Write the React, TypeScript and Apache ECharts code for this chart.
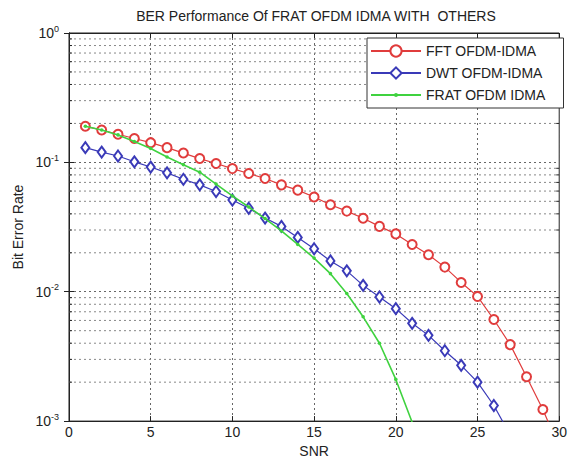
import React, { useEffect, useRef } from "react";
import * as echarts from "echarts";

const titleText = "BER Performance Of FRAT OFDM IDMA WITH  OTHERS";
const xName = "SNR";
const yName = "Bit Error Rate";
const seriesNames = ["FFT OFDM-IDMA", "DWT OFDM-IDMA", "FRAT OFDM IDMA"];

const snrFFT = [1, 2, 3, 4, 5, 6, 7, 8, 9, 10, 11, 12, 13, 14, 15, 16, 17, 18, 19, 20, 21, 22, 23, 24, 25, 26, 27, 28, 29, 30];
const berFFT = [0.19, 0.178, 0.165, 0.153, 0.142, 0.13, 0.118, 0.107, 0.098, 0.0895, 0.082, 0.075, 0.067, 0.061, 0.054, 0.047, 0.042, 0.037, 0.032, 0.028, 0.0232, 0.0193, 0.0155, 0.0118, 0.0092, 0.0061, 0.0039, 0.0022, 0.00123, 0.00062];

const snrDWT = [1, 2, 3, 4, 5, 6, 7, 8, 9, 10, 11, 12, 13, 14, 15, 16, 17, 18, 19, 20, 21, 22, 23, 24, 25, 26, 27];
const berDWT = [0.13, 0.12, 0.112, 0.101, 0.092, 0.083, 0.074, 0.067, 0.0595, 0.0512, 0.0442, 0.0371, 0.032, 0.0263, 0.0215, 0.0173, 0.0145, 0.0112, 0.0091, 0.0074, 0.0057, 0.0046, 0.0035, 0.0027, 0.002, 0.00132, 0.00078];

const snrFRAT = [1, 2, 3, 4, 5, 6, 7, 8, 9, 10, 11, 12, 13, 14, 15, 16, 17, 18, 19, 20, 21];
const berFRAT = [0.19, 0.178, 0.163, 0.145, 0.128, 0.11, 0.096, 0.084, 0.068, 0.055, 0.0452, 0.0368, 0.0295, 0.0232, 0.0182, 0.0138, 0.0097, 0.0064, 0.004, 0.0021, 0.00098];

const minorGridValues = [
  0.002, 0.003, 0.004, 0.005, 0.006, 0.007, 0.008, 0.009,
  0.02, 0.03, 0.04, 0.05, 0.06, 0.07, 0.08, 0.09,
  0.2, 0.3, 0.4, 0.5, 0.6, 0.7, 0.8, 0.9,
];

const X_MIN = 0;
const X_MAX = 30;
const Y_MIN = 0.001;
const Y_MAX = 1;

const FONT = "'Liberation Sans', Arial, Helvetica, sans-serif";
// small centred dot inside a 10x10 box (the moves keep the box size)
const DOT_SYMBOL = "path://M0,0M10,10M3.2,5a1.8,1.8 0 1,0 3.6,0a1.8,1.8 0 1,0 -3.6,0z";

const zip = (xs: number[], ys: number[]) => xs.map((x, i) => [x, ys[i]]);

export default function App() {
  const ref = useRef<HTMLDivElement>(null);
  useEffect(() => {
    const chart = echarts.init(ref.current!, null, { renderer: "svg" });
    const axisColor = "#222";
    const gridDash = [2, 3];
    chart.setOption({
      animation: false,
      backgroundColor: "#fff",
      textStyle: { fontFamily: FONT },
      graphic: [
        {
          type: "text",
          x: 316,
          y: 16,
          style: {
            text: titleText,
            align: "center",
            verticalAlign: "middle",
            fontFamily: FONT,
            fontSize: 14,
            fill: "#222",
          },
        },
      ],
      grid: {
        left: 69,
        right: 7,
        top: 33,
        bottom: 38,
        show: true,
        borderColor: axisColor,
        borderWidth: 1,
        backgroundColor: "#fff",
      },
      legend: {
        data: seriesNames,
        orient: "vertical",
        left: 367,
        top: 38,
        itemWidth: 50,
        itemHeight: 14,
        itemGap: 8,
        padding: [6, 18, 6, 3],
        backgroundColor: "#fff",
        borderColor: "#333",
        borderWidth: 1,
        textStyle: { fontFamily: FONT, fontSize: 14, color: "#222" },
      },
      xAxis: [
        {
          type: "value",
          min: X_MIN,
          max: X_MAX,
          interval: 5,
          name: xName,
          nameLocation: "middle",
          nameGap: 22,
          nameTextStyle: { fontFamily: FONT, fontSize: 14, color: "#222" },
          axisLine: { show: true, lineStyle: { color: axisColor } },
          axisTick: { show: true, inside: true, length: 5, lineStyle: { color: axisColor } },
          axisLabel: { margin: 4, fontFamily: FONT, fontSize: 14, color: "#222" },
          splitLine: { show: true, lineStyle: { color: "#666", type: gridDash, width: 1 } },
        },
        {
          type: "value",
          position: "top",
          min: X_MIN,
          max: X_MAX,
          interval: 5,
          axisLine: { show: true, lineStyle: { color: axisColor } },
          axisTick: { show: true, inside: true, length: 5, lineStyle: { color: axisColor } },
          axisLabel: { show: false },
          splitLine: { show: false },
        },
      ],
      yAxis: [
        {
          type: "log",
          logBase: 10,
          min: Y_MIN,
          max: Y_MAX,
          name: yName,
          nameLocation: "middle",
          nameGap: 42,
          nameTextStyle: { fontFamily: FONT, fontSize: 14, color: "#222" },
          axisLine: { show: true, lineStyle: { color: axisColor } },
          axisTick: { show: true, inside: true, length: 5, lineStyle: { color: axisColor } },
          axisLabel: {
            margin: 10,
            formatter: (v: number) => `{b|10}{s|${Math.round(Math.log10(v))}}`,
            rich: {
              b: { fontFamily: FONT, fontSize: 14, color: "#222" },
              s: { fontFamily: FONT, fontSize: 9, color: "#222", padding: [0, 0, 9, 0] },
            },
          },
          splitLine: { show: true, lineStyle: { color: "#666", type: gridDash, width: 1 } },
        },
        {
          type: "log",
          logBase: 10,
          min: Y_MIN,
          max: Y_MAX,
          position: "right",
          axisLine: { show: true, lineStyle: { color: axisColor } },
          axisTick: { show: true, inside: true, length: 5, lineStyle: { color: axisColor } },
          axisLabel: { show: false },
          splitLine: { show: false },
        },
      ],
      series: [
        {
          type: "custom",
          name: "minorGrid",
          silent: true,
          z: 1,
          xAxisIndex: 0,
          yAxisIndex: 0,
          data: minorGridValues.map((v) => [X_MIN, v]),
          renderItem: (params: any, api: any) => {
            const v = api.value(1);
            const p0 = api.coord([X_MIN, v]);
            const p1 = api.coord([X_MAX, v]);
            return {
              type: "group",
              children: [
                {
                  type: "line",
                  shape: { x1: p0[0], y1: p0[1], x2: p1[0], y2: p1[1] },
                  style: { stroke: "#888", lineWidth: 1, lineDash: gridDash },
                },
                {
                  type: "line",
                  shape: { x1: p0[0], y1: p0[1], x2: p0[0] + 3, y2: p0[1] },
                  style: { stroke: axisColor, lineWidth: 1 },
                },
                {
                  type: "line",
                  shape: { x1: p1[0] - 3, y1: p1[1], x2: p1[0], y2: p1[1] },
                  style: { stroke: axisColor, lineWidth: 1 },
                },
              ],
            };
          },
        },
        {
          type: "line",
          name: seriesNames[0],
          z: 3,
          data: zip(snrFFT, berFFT),
          symbol: "emptyCircle",
          symbolSize: 9,
          showSymbol: true,
          clip: true,
          color: "#e03c3c",
          itemStyle: { color: "#e03c3c", borderWidth: 1 },
          lineStyle: { color: "#e03c3c", width: 1.2 },
        },
        {
          type: "line",
          name: seriesNames[1],
          z: 3,
          data: zip(snrDWT, berDWT),
          symbol: "emptyDiamond",
          symbolSize: [8, 11],
          showSymbol: true,
          clip: true,
          color: "#3a3ab8",
          itemStyle: { color: "#3a3ab8", borderWidth: 1 },
          lineStyle: { color: "#3a3ab8", width: 1.2 },
        },
        {
          type: "line",
          name: seriesNames[2],
          z: 4,
          data: zip(snrFRAT, berFRAT),
          symbol: DOT_SYMBOL,
          symbolSize: 10,
          showSymbol: true,
          clip: true,
          color: "#3fd23f",
          itemStyle: { color: "#3fd23f" },
          lineStyle: { color: "#3fd23f", width: 1.6 },
        },
      ],
    });
    return () => chart.dispose();
  }, []);
  return (
    <div
      ref={ref}
      style={{ position: "fixed", left: 0, top: 0, width: 570, height: 463 }}
    />
  );
}
